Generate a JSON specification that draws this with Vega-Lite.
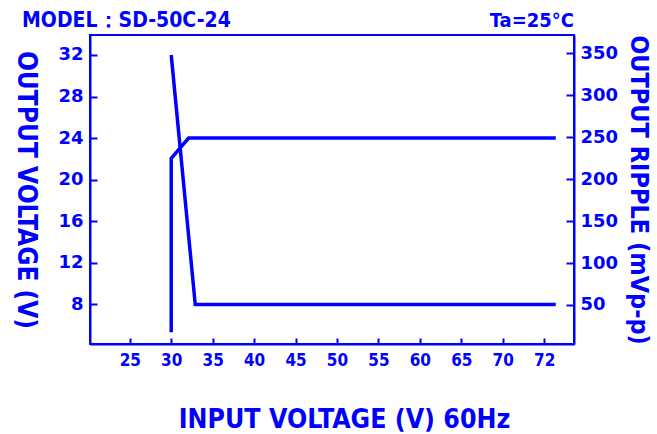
{
  "$schema": "https://vega.github.io/schema/vega-lite/v6.json",
  "width": 484,
  "height": 309,
  "autosize": "none",
  "padding": {"left": 90, "top": 35, "right": 83, "bottom": 90},
  "background": "white",
  "datasets": {
    "voltage": [
      {"vin": 30, "vout": 5.3},
      {"vin": 30, "vout": 22.05},
      {"vin": 32.1, "vout": 24},
      {"vin": 76.4, "vout": 24}
    ],
    "ripple": [
      {"vin": 30, "ripple": 348},
      {"vin": 32.9, "ripple": 50.5},
      {"vin": 76.4, "ripple": 50.5}
    ],
    "temp": [
      {"vin": 78.6, "vout": 34.7, "label": "Ta=25°C"}
    ],
    "model": [
      {"vin": 12.0, "vout": 34.7, "label": "MODEL：SD-50C-24"}
    ]
  },
  "config": {
    "view": {"stroke": "#0000FF", "strokeWidth": 2},
    "axis": {
      "domainColor": "#0000FF",
      "domainWidth": 2,
      "tickColor": "#0000FF",
      "tickWidth": 2,
      "labelColor": "#0000FF",
      "titleColor": "#0000FF",
      "grid": false,
      "labelFont": "DejaVu Sans",
      "labelFontWeight": "bold",
      "titleFont": "DejaVu Sans Condensed",
      "titleFontWeight": "bold"
    }
  },
  "encoding": {
    "x": {
      "field": "vin",
      "type": "quantitative",
      "scale": {"domain": [20.2, 78.6], "nice": false, "zero": false},
      "axis": {
        "values": [25, 30, 35, 40, 45, 50, 55, 60, 65, 70, 75],
        "labelExpr": "datum.value == 75 ? '72' : datum.label",
        "tickSize": -6,
        "labelPadding": 14,
        "labelFont": "DejaVu Sans Condensed",
        "labelFontSize": 17,
        "title": "INPUT VOLTAGE (V) 60Hz",
        "titleFontSize": 26.5,
        "titlePadding": 38,
        "titleX": 254
      }
    }
  },
  "layer": [
    {
      "layer": [
        {
          "data": {"name": "voltage"},
          "mark": {"type": "line", "color": "#0000FF", "strokeWidth": 3.5},
          "encoding": {
            "y": {
              "field": "vout",
              "type": "quantitative",
              "scale": {"domain": [4.18, 33.92], "nice": false, "zero": false},
              "axis": {
                "orient": "left",
                "values": [8, 12, 16, 20, 24, 28, 32],
                "tickSize": -7,
                "labelPadding": 14,
                "labelFontSize": 18,
                "title": "OUTPUT VOLTAGE (V)",
                "titleAngle": 90,
                "titleFontSize": 26,
                "titlePadding": 45
              }
            }
          }
        },
        {
          "data": {"name": "temp"},
          "mark": {"type": "text", "color": "#0000FF", "align": "right", "baseline": "alphabetic", "font": "DejaVu Sans Condensed", "fontWeight": "bold", "fontSize": 20},
          "encoding": {
            "y": {"field": "vout", "type": "quantitative"},
            "text": {"field": "label"}
          }
        },
        {
          "data": {"name": "model"},
          "mark": {"type": "text", "color": "#0000FF", "align": "left", "baseline": "alphabetic", "font": "DejaVu Sans Condensed", "fontWeight": "bold", "fontSize": 21},
          "encoding": {
            "y": {"field": "vout", "type": "quantitative"},
            "text": {"field": "label"}
          }
        }
      ]
    },
    {
      "data": {"name": "ripple"},
      "mark": {"type": "line", "color": "#0000FF", "strokeWidth": 3.5},
      "encoding": {
        "y": {
          "field": "ripple",
          "type": "quantitative",
          "scale": {"domain": [3.5, 371.8], "nice": false, "zero": false},
          "axis": {
            "orient": "right",
            "values": [50, 100, 150, 200, 250, 300, 350],
            "tickSize": -8,
            "labelPadding": 14,
            "labelFontSize": 18,
            "title": "OUTPUT RIPPLE (mVp-p)",
            "titleAngle": 90,
            "titleFontSize": 25,
            "titlePadding": 8
          }
        }
      }
    }
  ],
  "resolve": {"scale": {"y": "independent"}}
}
